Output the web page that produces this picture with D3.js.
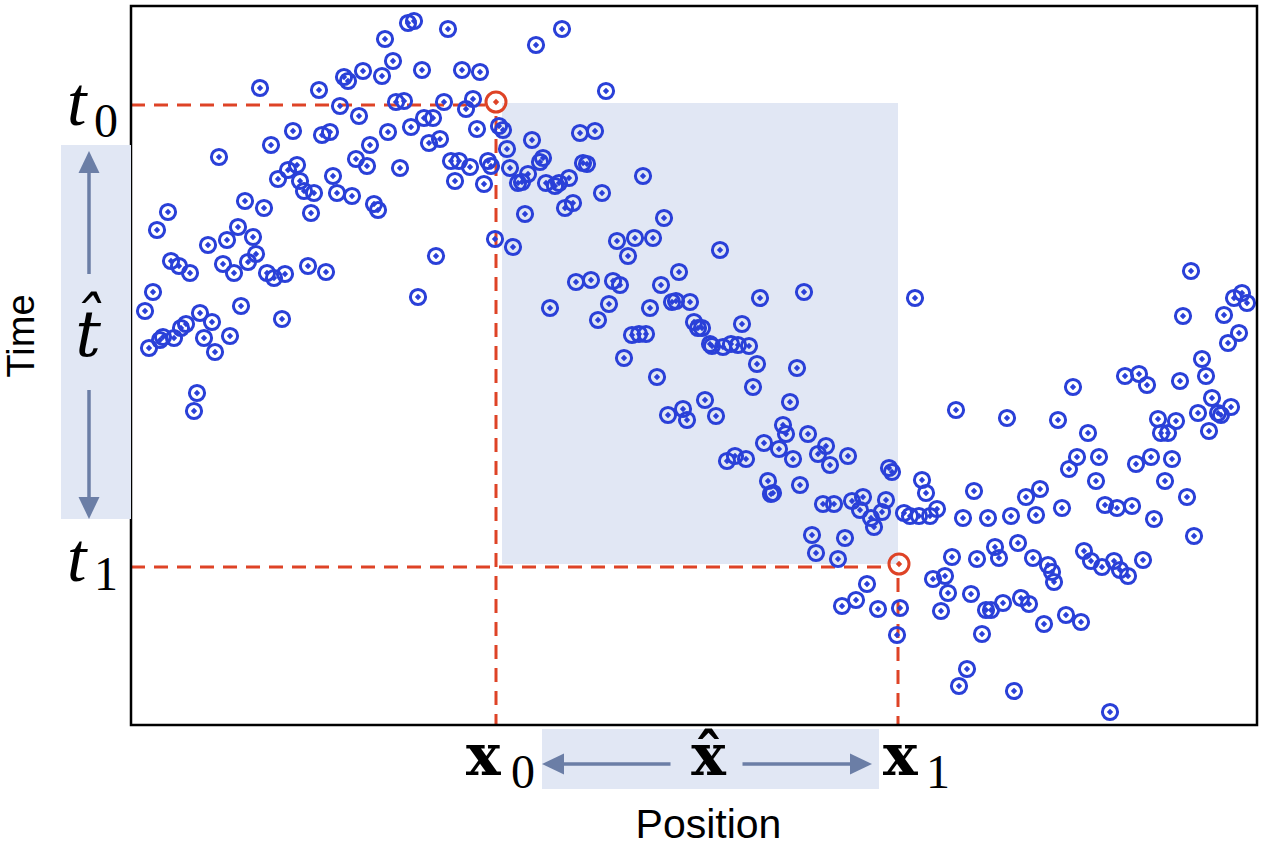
<!DOCTYPE html>
<html>
<head>
<meta charset="utf-8">
<script src="https://cdn.jsdelivr.net/npm/d3@7"></script>
<style>
  body { margin: 0; background: #fff; }
  svg { display: block; }
</style>
</head>
<body>
<svg id="chart" width="1266" height="846"></svg>
<script>
// observations: position (x) and time (t), time grows downward
// left hump
const riseX = [
  27.7, 28.3, 31.7, 25.4, 26.2, 29.1, 33.1, 34.9, 23.2, 25.1,
  21.3, 21.7, 18.8, 12.9, 26.5, 27.3, 31.3, 34.2, 33.5, 20.9,
  22.8, 29.3, 30.2, 28.0, 34.6, 36.8, 37.2, 16.2, 19.1, 19.9,
  25.7, 14.0, 23.9, 29.8, 30.9, 37.6, 8.8, 22.5, 23.6, 26.9,
  32.0, 32.8, 33.9, 35.7, 36.0, 32.4, 35.3, 37.9, 15.7, 16.6,
  14.7, 16.9, 17.3, 18.3, 20.2, 20.6, 22.1, 24.3, 24.7, 18.0,
  11.4, 13.3, 3.7, 2.6, 10.7, 12.2, 9.6, 7.7, 36.4, 38.2,
  4.0, 4.8, 5.9, 9.2, 10.3, 11.7, 12.5, 13.6, 14.3, 15.4,
  17.7, 19.5, 30.5, 28.7, 2.2, 1.4, 11.0, 15.1, 6.9, 8.1,
  5.5, 5.0, 4.3, 3.2, 2.9, 1.8, 7.3, 9.9, 8.4, 6.6, 6.3
];
const riseT = [
  1.7, 1.5, 2.3, 3.3, 5.5, 6.4, 6.4, 6.6, 6.5, 7.0,
  7.1, 7.5, 8.4, 8.2, 9.6, 9.5, 9.6, 9.3, 10.3, 10.0,
  11.0, 11.2, 11.2, 12.1, 12.3, 12.0, 12.4, 12.5, 12.9, 12.6,
  12.6, 13.9, 13.9, 13.7, 13.3, 14.3, 15.1, 15.3, 16.0, 16.2,
  15.5, 15.5, 16.1, 15.5, 16.0, 17.5, 17.8, 16.2, 16.4, 15.9,
  17.3, 17.5, 18.5, 18.7, 17.0, 18.7, 19.0, 19.8, 20.4, 20.7,
  19.5, 20.2, 20.6, 22.4, 22.1, 23.1, 23.4, 23.9, 23.3, 24.1,
  25.5, 26.0, 26.7, 25.8, 26.7, 25.6, 24.8, 26.7, 27.2, 26.8,
  26.0, 26.6, 25.0, 29.1, 28.6, 30.5, 30.0, 31.3, 30.7, 31.6,
  31.8, 32.2, 33.2, 33.1, 33.4, 34.2, 33.2, 33.0, 34.6, 38.7, 40.5
];
// middle descent
const fallX = [
  43.1, 40.5, 47.5, 44.9, 46.4, 40.1, 40.9, 41.2, 45.2, 45.6,
  39.7, 38.7, 39.1, 41.5, 42.4, 42.8, 43.8, 51.2, 47.1, 43.4,
  44.2, 39.4, 53.3, 48.6, 50.4, 52.2, 58.9, 49.7, 54.8, 53.0,
  44.5, 46.0, 48.2, 48.9, 41.9, 47.8, 46.7, 51.9, 54.1, 54.5,
  55.9, 62.9, 67.3, 56.3, 56.7, 57.1, 61.1, 50.1, 50.8, 51.5,
  57.9, 58.1, 59.2, 60.0, 60.7, 61.8, 49.3, 62.6, 66.6, 52.6,
  62.2, 65.9, 57.4, 53.7, 55.2, 55.6, 58.5, 65.2, 65.5, 67.7,
  63.3, 64.8, 69.5, 68.7, 66.2, 69.9, 71.7, 59.6, 60.4, 61.5,
  63.7, 66.9, 64.2, 64.0, 75.8, 76.1, 79.1, 79.5, 84.3, 69.2,
  70.3, 72.1, 73.2, 72.9, 75.5, 75.1, 74.0, 74.3, 77.3, 77.9,
  78.8, 79.9, 80.6, 83.2, 85.7, 68.1, 71.4, 68.5, 70.7, 82.1,
  84.6, 86.4, 73.6, 72.5, 71.1, 74.7, 76.9, 80.2, 81.4, 81.7,
  84.0, 81.0, 85.5, 86.0, 76.6, 85.1
];
const fallT = [
  2.3, 3.9, 8.5, 12.7, 12.5, 13.4, 15.6, 15.2, 15.7, 15.8,
  16.8, 17.7, 17.6, 17.7, 18.0, 17.7, 17.2, 17.0, 18.7, 20.2,
  19.7, 20.8, 21.2, 23.5, 23.2, 23.2, 24.4, 25.0, 26.6, 27.9,
  27.6, 27.4, 27.5, 27.9, 30.2, 29.8, 31.4, 30.2, 29.6, 29.5,
  29.6, 29.2, 28.6, 31.6, 32.2, 32.2, 31.8, 32.9, 32.8, 32.8,
  33.8, 34.0, 34.1, 33.8, 33.9, 34.0, 35.2, 35.8, 36.2, 37.1,
  38.1, 39.6, 39.4, 40.9, 40.3, 41.4, 41.0, 41.9, 42.8, 42.8,
  43.7, 44.3, 44.0, 44.8, 45.3, 45.9, 45.0, 45.5, 45.0, 45.3,
  47.5, 47.9, 48.7, 48.8, 46.2, 46.6, 47.4, 48.7, 48.5, 49.8,
  49.8, 49.5, 49.1, 50.4, 49.4, 50.6, 51.2, 52.1, 50.7, 51.0,
  51.0, 51.0, 50.3, 51.2, 51.2, 52.9, 53.2, 54.7, 55.3, 55.1,
  55.3, 54.1, 57.8, 59.4, 60.0, 60.3, 60.2, 57.3, 57.0, 58.7,
  58.8, 60.5, 60.4, 60.4, 62.9, 62.8
];
// right valley and rise
const rightX = [
  106.0, 78.4, 110.3, 111.1, 111.6, 105.2, 109.3, 110.8, 109.7, 107.1,
  107.5, 99.4, 100.8, 101.6, 104.9, 94.2, 108.1, 106.7, 108.7, 109.0,
  110.0, 102.7, 104.5, 103.0, 103.7, 107.8, 82.5, 87.6, 92.7, 95.7,
  94.6, 96.8, 93.8, 100.5, 102.0, 104.1, 96.5, 103.4, 105.6, 89.5,
  90.9, 93.1, 97.4, 98.6, 100.1, 102.3, 106.3, 88.0, 90.5, 86.8,
  88.7, 90.2, 91.7, 92.1, 92.3, 95.3, 96.0, 97.1, 98.3, 98.9,
  99.7, 101.2, 87.2, 89.0, 89.8, 91.3, 93.5, 95.0, 83.6, 82.8,
  88.3, 97.9
];
const rightT = [
  26.5, 29.2, 29.2, 28.7, 29.7, 31.0, 30.9, 32.7, 33.7, 35.3,
  37.0, 37.0, 36.8, 37.9, 37.5, 38.1, 39.2, 40.7, 40.7, 40.9,
  40.1, 41.3, 41.5, 42.7, 42.7, 42.5, 40.4, 41.2, 41.4, 42.7,
  45.1, 45.1, 46.3, 45.8, 45.1, 45.3, 47.5, 47.5, 49.1, 49.1,
  48.3, 50.2, 49.9, 50.2, 50.0, 51.3, 53.0, 51.0, 50.9, 55.2,
  53.7, 55.2, 55.9, 56.6, 57.6, 54.5, 55.5, 56.1, 55.5, 56.4,
  57.0, 55.4, 59.7, 59.2, 59.8, 61.8, 60.9, 61.6, 66.3, 68.0,
  68.5, 70.6
];
// the two highlighted samples (x0,t0) and (x1,t1)
const markX = [36.5, 76.8];
const markT = [9.6, 55.8];
const guideX = [36.5, 76.7];
const guideT = [9.9, 56.1];
const subLabels = ["0", "1"];

const blue = "#2a40d8", red = "#de4326", slate = "#6b7ea6", shade = "#e1e7f4";
const serif = "'Liberation Serif', 'DejaVu Serif', serif";
const boldSerif = "'DejaVu Serif', serif";
const sans = "'Liberation Sans', Arial, sans-serif";

const svg = d3.select("#chart");
const plotL = 131, plotT = 6, plotR = 1257, plotB = 725;

const x = d3.scaleLinear().domain([0, 112.6]).range([plotL, plotR]);
const y = d3.scaleLinear().domain([0, 71.9]).range([plotT, plotB]);

const points = d3.zip(riseX.concat(fallX, rightX), riseT.concat(fallT, rightT));

// shaded window between the two samples
svg.append("rect")
    .attr("x", x(guideX[0]) + 6)
    .attr("y", y(guideT[0]) - 2)
    .attr("width", x(guideX[1]) - x(guideX[0]) - 6)
    .attr("height", y(guideT[1]) - y(guideT[0]) - 1)
    .attr("fill", shade);

// dashed guides
const guides = svg.append("g")
    .attr("stroke", red)
    .attr("stroke-width", 3)
    .attr("stroke-dasharray", "14,9")
    .attr("fill", "none");
[0, 1].forEach(i => {
    guides.append("line")
        .attr("x1", plotL).attr("x2", x(markX[i]) - 11)
        .attr("y1", y(guideT[i])).attr("y2", y(guideT[i]));
    guides.append("line")
        .attr("x1", x(guideX[i])).attr("x2", x(guideX[i]))
        .attr("y1", y(markT[i]) + 14).attr("y2", plotB);
});

// observations
const diamond = d3.symbol().type(d3.symbolDiamond2).size(26);
const dots = svg.append("g");
dots.selectAll("circle")
    .data(points)
    .join("circle")
    .attr("cx", d => x(d[0]))
    .attr("cy", d => y(d[1]))
    .attr("r", 7.6)
    .attr("fill", "none")
    .attr("stroke", blue)
    .attr("stroke-width", 3);
dots.selectAll("path")
    .data(points)
    .join("path")
    .attr("d", diamond)
    .attr("transform", d => `translate(${x(d[0])},${y(d[1])})`)
    .attr("fill", blue);

const marks = d3.zip(markX, markT);
svg.append("g").selectAll("circle")
    .data(marks)
    .join("circle")
    .attr("cx", d => x(d[0]))
    .attr("cy", d => y(d[1]))
    .attr("r", 10)
    .attr("fill", "none")
    .attr("stroke", red)
    .attr("stroke-width", 3);
svg.append("g").selectAll("path")
    .data(marks)
    .join("path")
    .attr("d", diamond)
    .attr("transform", d => `translate(${x(d[0])},${y(d[1])})`)
    .attr("fill", red);

// frame
svg.append("rect")
    .attr("x", plotL).attr("y", plotT)
    .attr("width", plotR - plotL).attr("height", plotB - plotT)
    .attr("fill", "none")
    .attr("stroke", "#000")
    .attr("stroke-width", 2.5);

// arrow helper
function arrow(x1, y1, x2, y2) {
    const a = Math.atan2(y2 - y1, x2 - x1);
    const len = 22, half = 10.5;
    const bx = x2 - len * Math.cos(a), by = y2 - len * Math.sin(a);
    svg.append("line")
        .attr("x1", x1).attr("y1", y1).attr("x2", bx).attr("y2", by)
        .attr("stroke", slate).attr("stroke-width", 3.5);
    svg.append("path")
        .attr("d", `M${x2},${y2}L${bx - half * Math.sin(a)},${by + half * Math.cos(a)}L${bx + half * Math.sin(a)},${by - half * Math.cos(a)}Z`)
        .attr("fill", slate);
}

// time span box on the left
const tTop = y(guideT[0]) + 40, tBot = y(guideT[1]) - 48;
svg.append("rect")
    .attr("x", 61).attr("y", tTop)
    .attr("width", plotL - 61).attr("height", tBot - tTop)
    .attr("fill", shade);
const tMid = (tTop + tBot) / 2;
arrow(89, tMid - 58, 89, tTop + 6);
arrow(89, tMid + 58, 89, tBot);
svg.append("text")
    .attr("x", 88).attr("y", tMid + 24)
    .attr("text-anchor", "middle")
    .attr("font-family", boldSerif).attr("font-style", "italic")
    .attr("font-size", 64)
    .text("t\u0302");

// t0 / t1 labels
[0, 1].forEach(i => {
    const g = svg.append("text")
        .attr("font-family", serif);
    g.append("tspan")
        .attr("x", 67).attr("y", y(guideT[i]) + (i ? 14 : 20))
        .attr("font-style", "italic").attr("font-size", 70)
        .text("t");
    g.append("tspan")
        .attr("x", 94).attr("y", y(guideT[i]) + (i ? 23 : 32))
        .attr("font-size", 48)
        .text(subLabels[i]);
});

svg.append("text")
    .attr("transform", `translate(34,${tMid + 4}) rotate(-90)`)
    .attr("text-anchor", "middle")
    .attr("font-family", sans).attr("font-size", 38)
    .text("Time");

// position span box at the bottom
const xL = x(guideX[0]) + 46, xR = x(guideX[1]) - 19;
svg.append("rect")
    .attr("x", xL).attr("y", plotB + 4)
    .attr("width", xR - xL).attr("height", 60)
    .attr("fill", shade);
const xMid = (xL + xR) / 2;
arrow(xMid - 40, 764, xL, 764);
arrow(xMid + 32, 764, xR - 7, 764);
svg.append("text")
    .attr("x", xMid - 2).attr("y", 775)
    .attr("text-anchor", "middle")
    .attr("font-family", boldSerif).attr("font-weight", "bold")
    .attr("font-size", 58)
    .text("x\u0302");

// x0 / x1 labels
[0, 1].forEach(i => {
    const g = svg.append("text");
    g.append("tspan")
        .attr("x", x(guideX[i]) + (i ? -15 : -30)).attr("y", 775)
        .attr("font-family", boldSerif).attr("font-weight", "bold")
        .attr("font-size", 58)
        .text("x");
    g.append("tspan")
        .attr("x", x(guideX[i]) + (i ? 28 : 15)).attr("y", 788)
        .attr("font-family", serif).attr("font-size", 48)
        .text(subLabels[i]);
});

svg.append("text")
    .attr("x", xMid - 2).attr("y", 838)
    .attr("text-anchor", "middle")
    .attr("font-family", sans).attr("font-size", 41)
    .text("Position");
</script>
</body>
</html>
